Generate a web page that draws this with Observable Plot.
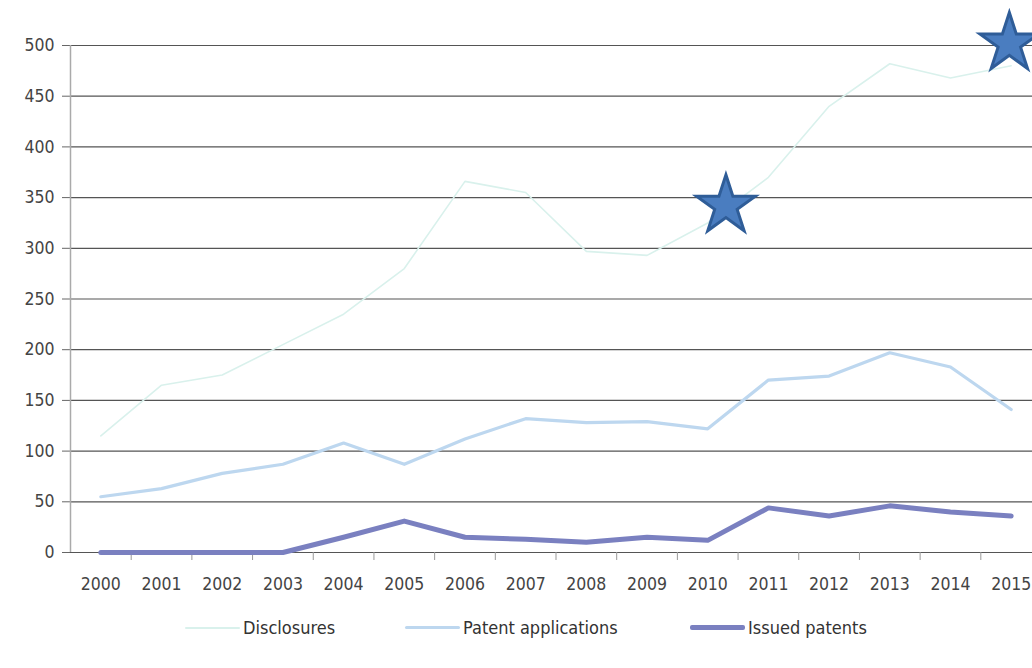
<!DOCTYPE html>
<html><head><meta charset="utf-8">
<script src="https://cdn.jsdelivr.net/npm/d3@7"></script>
<script src="https://cdn.jsdelivr.net/npm/@observablehq/plot@0.6"></script>
<style>
body{margin:0;background:#fff;font-family:"Liberation Sans Narrow","DejaVu Sans Condensed","Open Sans",sans-serif;}
#wrap{position:relative;width:1032px;}
#legend{position:relative;height:58px;font-size:18px;color:#333;}
.item{position:absolute;top:7px;display:flex;align-items:center;white-space:nowrap;}
.sw{display:inline-block;width:55px;margin-right:3px;border-radius:2px;}
</style></head>
<body><div id="wrap"><div id="chart"></div><div id="legend"></div></div>
<script>
const years = [2000,2001,2002,2003,2004,2005,2006,2007,2008,2009,2010,2011,2012,2013,2014,2015];
const disclosures = [115,165,175,205,235,280,366,355,297,293,325,370,440,482,468,480];
const applications = [55,63,78,87,108,87,112,132,128,129,122,170,174,197,183,141];
const issued = [0,0,0,0,15,31,15,13,10,15,12,44,36,46,40,36];
const yTicks = [0,50,100,150,200,250,300,350,400,450,500];
const starYears = [2010.3, 2014.97];
const starValues = [342, 502];
const seriesNames = ["Disclosures","Patent applications","Issued patents"];
const seriesColors = ["#d9f1ec","#bdd7ef","#7a80c0"];
const seriesWidths = [1.6,3.2,5];

const rows = [];
[disclosures, applications, issued].forEach((arr, i) => {
  arr.forEach((v, j) => rows.push({year: years[j], value: v, series: seriesNames[i]}));
});
const boundaries = years.map(y => y + 0.5);
const stars = starYears.map((y, i) => ({year: y, value: starValues[i]}));

const chart = Plot.plot({
  width: 1032, height: 610,
  marginTop: 45, marginBottom: 58, marginLeft: 70, marginRight: -9,
  style: {fontFamily: '"Liberation Sans Narrow","DejaVu Sans Condensed",sans-serif', fontSize: "17px", color: "#444", background: "#fff"},
  x: {domain: [1999.5, 2015.5], axis: null},
  y: {domain: [0, 500], axis: null},
  marks: [
    Plot.ruleY(yTicks, {stroke: "#555", strokeWidth: 1.2}),
    Plot.axisY({ticks: yTicks, tickSize: 8, tickPadding: 8, stroke: "#666", fill: "#444", fontSize: 17.5, label: null}),
    Plot.ruleX([1999.5], {y1: 0, y2: 500, stroke: "#aaa", strokeWidth: 1.5}),
    Plot.axisX({ticks: boundaries, tickSize: 8, tickFormat: () => "", stroke: "#999", label: null}),
    Plot.axisX({ticks: years, tickSize: 0, tickPadding: 25, tickFormat: d => String(d), fill: "#444", fontSize: 17.5, label: null}),
    ...seriesNames.map((s, i) => Plot.line(rows.filter(r => r.series === s), {
      x: "year", y: "value", stroke: seriesColors[i], strokeWidth: seriesWidths[i], strokeLinejoin: "round", strokeLinecap: "round"
    })),
    Plot.dot(stars, {x: "year", y: "value", symbol: "star", r: 18.5, fill: "#4a7dc0", stroke: "#2f5d98", strokeWidth: 3})
  ]
});
document.getElementById("chart").appendChild(chart);

const legend = document.getElementById("legend");
const lefts = [185, 405, 690];
seriesNames.forEach((s, i) => {
  const d = document.createElement("div");
  d.className = "item";
  d.style.left = lefts[i] + "px";
  d.innerHTML = `<span class="sw" style="height:${Math.max(2, seriesWidths[i])}px;background:${seriesColors[i]}"></span><span>${s}</span>`;
  legend.appendChild(d);
});
</script></body></html>
